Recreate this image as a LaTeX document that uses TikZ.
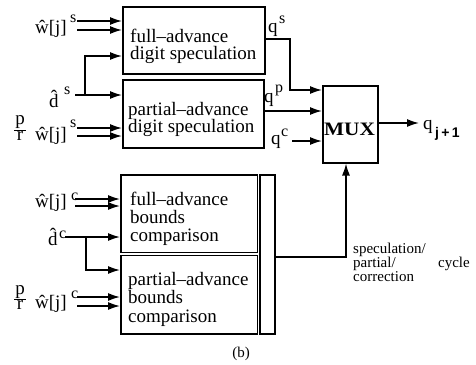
\documentclass[tikz,border=0pt]{standalone}
\usepackage{fontspec}
\setmainfont{Liberation Serif}
\newfontfamily\sansb{Liberation Sans}
\usetikzlibrary{arrows.meta}
\begin{document}
\begin{tikzpicture}[x=1pt,y=-1pt,
 box/.style={draw, line width=1.5pt, inner sep=0pt, anchor=north west},
 txt/.style={font=\fontsize{19}{19}\selectfont, inner sep=0pt, anchor=base west},
 lbl/.style={font=\fontsize{19}{19}\selectfont, inner sep=0pt},
 sup/.style={font=\fontsize{16}{16}\selectfont, inner sep=0pt, anchor=base west},
 note/.style={font=\fontsize{15}{15}\selectfont, inner sep=0pt},
 ln/.style={line width=1.5pt},
 fbar/.style={line width=1pt},
 arr/.style={line width=1.5pt, -{Latex[length=12pt,width=8pt]}},
]
\useasboundingbox (0,0) rectangle (476,364);

% boxes
\node[box, minimum width=142pt, minimum height=67pt] (b1) at (122,6) {};
\node[box, minimum width=141pt, minimum height=68pt] (b2) at (122,79) {};
\node[box, minimum width=136.5pt, minimum height=77.5pt] (b3) at (120,174) {};
\node[box, minimum width=136.5pt, minimum height=78.5pt] (b4) at (120,254.5) {};
\node[box, minimum width=15pt, minimum height=159pt] (bar) at (259,174) {};
\node[box, minimum width=55pt, minimum height=77pt] (mux) at (322,85) {};

% box texts
\node[txt] (t1a) at (130,42) {full--advance};
\node[txt] (t1b) at (130,59) {digit speculation};
\node[txt] (t2a) at (128,115) {partial--advance};
\node[txt] (t2b) at (128,132) {digit speculation};
\node[txt] (t3a) at (130,205) {full--advance};
\node[txt] (t3b) at (130,223) {bounds};
\node[txt] (t3c) at (130,241) {comparison};
\node[txt] (t4a) at (128,285) {partial--advance};
\node[txt] (t4b) at (128,303) {bounds};
\node[txt] (t4c) at (128,322) {comparison};
\node[lbl, anchor=base] (muxt) at (349.5,135) {\bfseries\scalebox{1.12}[1]{MUX}};

% left labels, top group
\node[lbl, anchor=base east] (lw1) at (67,33) {\^{w}[j]};
\node[sup] (lw1s) at (70,22) {s};
\node[lbl, anchor=base west] (ld1) at (49,107) {\accent"02C6 d};
\node[sup] (ld1s) at (64,94) {s};
\node[lbl, anchor=base] (fr1p) at (20,124) {p};
\node[lbl, anchor=base] (fr1r) at (20,140) {r};
\draw[fbar] (14,130) -- (26,130);
\node[lbl, anchor=base east] (lw2) at (67,140) {\^{w}[j]};
\node[sup] (lw2s) at (70,127) {s};

% left labels, bottom group
\node[lbl, anchor=base east] (lw3) at (67,207) {\^{w}[j]};
\node[sup] (lw3s) at (71,200) {c};
\node[lbl, anchor=base west] (ld3) at (48,245) {\accent"02C6 d};
\node[sup] (ld3s) at (59,238) {c};
\node[lbl, anchor=base] (fr4p) at (20,294) {p};
\node[lbl, anchor=base] (fr4r) at (20,309) {r};
\draw[fbar] (14,299) -- (26,299);
\node[lbl, anchor=base east] (lw4) at (67,308) {\^{w}[j]};
\node[sup] (lw4s) at (71,298) {c};

% right labels
\node[lbl, anchor=base west] (qs) at (268,32) {q};
\node[sup] (qss) at (279,23) {s};
\node[lbl, anchor=base west] (qp) at (264,102) {q};
\node[sup] (qps) at (275,92) {p};
\node[lbl, anchor=base west] (qc) at (271,144) {q};
\node[sup] (qcs) at (281,136) {c};
\node[lbl, anchor=base west] (qo) at (423,129) {q};
\node[inner sep=0pt, anchor=base west, font=\fontsize{14}{14}\selectfont\sansb\bfseries] (qos) at (435,137) {j\,+\,1};

\node[note, anchor=base west] (n1) at (353,253) {speculation/};
\node[note, anchor=base west] (n2) at (353,267) {partial/};
\node[note, anchor=base east] (n3) at (470,267) {cycle};
\node[note, anchor=base west] (n4) at (353,281) {correction};
\node[note, anchor=base] (cap) at (241,357) {(b)};

% coordinates
\coordinate (w1a) at (77,21);
\coordinate (w1b) at (77,30);
\coordinate (d1) at (75,95);
\coordinate (d1j) at (85,95);
\coordinate (d1t) at (85,56);
\coordinate (w2a) at (77,128);
\coordinate (w2b) at (77,136);
\coordinate (w3a) at (75,199);
\coordinate (w3b) at (75,206);
\coordinate (d3) at (65,237);
\coordinate (d3j) at (86,237);
\coordinate (d3t) at (86,270);
\coordinate (w4a) at (77,297);
\coordinate (w4b) at (77,306);
\coordinate (qsT) at (290,39);
\coordinate (qsU) at (290,90);
\coordinate (qpy) at (300,111);
\coordinate (qcA) at (292,141);
\coordinate (qoy) at (400,123);
\coordinate (qoE) at (419,123);
\coordinate (boy) at (300,257);
\coordinate (bc) at (346,257);

% input connectors
\draw[arr] (w1a) -- (w1a -| b1.west);
\draw[arr] (w1b) -- (w1b -| b1.west);
\draw[arr] (d1) -- (d1 -| b2.west);
\draw[arr] (d1j) -- (d1t) -- (d1t -| b1.west);
\draw[arr] (w2a) -- (w2a -| b2.west);
\draw[arr] (w2b) -- (w2b -| b2.west);
\draw[arr] (w3a) -- (w3a -| b3.west);
\draw[arr] (w3b) -- (w3b -| b3.west);
\draw[arr] (d3) -- (d3 -| b3.west);
\draw[arr] (d3j) -- (d3t) -- (d3t -| b4.west);
\draw[arr] (w4a) -- (w4a -| b4.west);
\draw[arr] (w4b) -- (w4b -| b4.west);

% output connectors
\draw[arr] (qsT -| b1.east) -- (qsT) -- (qsU) -- (qsU -| mux.west);
\draw[arr] (qpy -| b2.east) -- (qpy -| mux.west);
\draw[arr] (qcA) -- (qcA -| mux.west);
\draw[arr] (qoy -| mux.east) -- (qoE);
\draw[arr] (boy -| bar.east) -- (bc) -- (bc |- mux.south);
\end{tikzpicture}
\end{document}
